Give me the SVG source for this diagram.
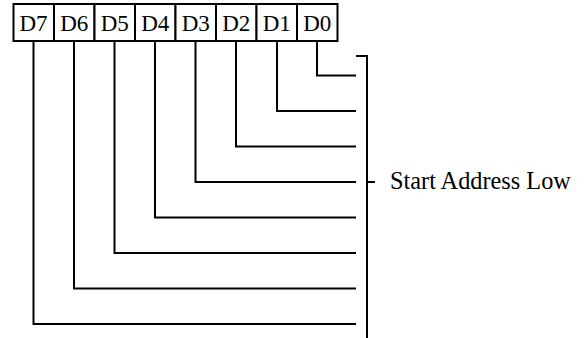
<svg xmlns="http://www.w3.org/2000/svg" width="585" height="338" viewBox="0 0 585 338">
<style>
.box{fill:#fff;stroke:#000;stroke-width:2}
.lbl{font-family:"Liberation Serif","Times New Roman",serif;font-size:23px;fill:#000;text-anchor:middle}
.ln{fill:none;stroke:#000;stroke-width:2}
.txt{font-family:"Liberation Serif","Times New Roman",serif;font-size:24.3px;fill:#000}
</style>
<rect width="585" height="338" fill="#fff"/>
<g id="D7"><rect class="box" x="13.5" y="4" width="40.5" height="37"/><text class="lbl" x="33.5" y="30.5">D7</text></g>
<g id="D6"><rect class="box" x="54" y="4" width="40.5" height="37"/><text class="lbl" x="74.2" y="30.5">D6</text></g>
<g id="D5"><rect class="box" x="94.5" y="4" width="40.5" height="37"/><text class="lbl" x="114.7" y="30.5">D5</text></g>
<g id="D4"><rect class="box" x="135" y="4" width="40.5" height="37"/><text class="lbl" x="155.2" y="30.5">D4</text></g>
<g id="D3"><rect class="box" x="175.5" y="4" width="40.5" height="37"/><text class="lbl" x="195.7" y="30.5">D3</text></g>
<g id="D2"><rect class="box" x="216" y="4" width="40.5" height="37"/><text class="lbl" x="236.2" y="30.5">D2</text></g>
<g id="D1"><rect class="box" x="256.5" y="4" width="40.5" height="37"/><text class="lbl" x="276.7" y="30.5">D1</text></g>
<g id="D0"><rect class="box" x="297" y="4" width="40.5" height="37"/><text class="lbl" x="317.2" y="30.5">D0</text></g>
<g id="connectors">
<path class="ln" d="M317 41V75.5H356"/>
<path class="ln" d="M277 41V111H356"/>
<path class="ln" d="M236 41V146.5H356"/>
<path class="ln" d="M195.5 41V182H356"/>
<path class="ln" d="M155 41V217.5H356"/>
<path class="ln" d="M114.5 41V253H356"/>
<path class="ln" d="M74 41V288.5H356"/>
<path class="ln" d="M33.5 41V324H356"/>
</g>
<g id="bracket">
<path class="ln" d="M356 56H367V338"/>
<path class="ln" d="M367 182H375"/>
<text class="txt" x="390" y="188.5">Start Address Low</text>
</g>
</svg>
